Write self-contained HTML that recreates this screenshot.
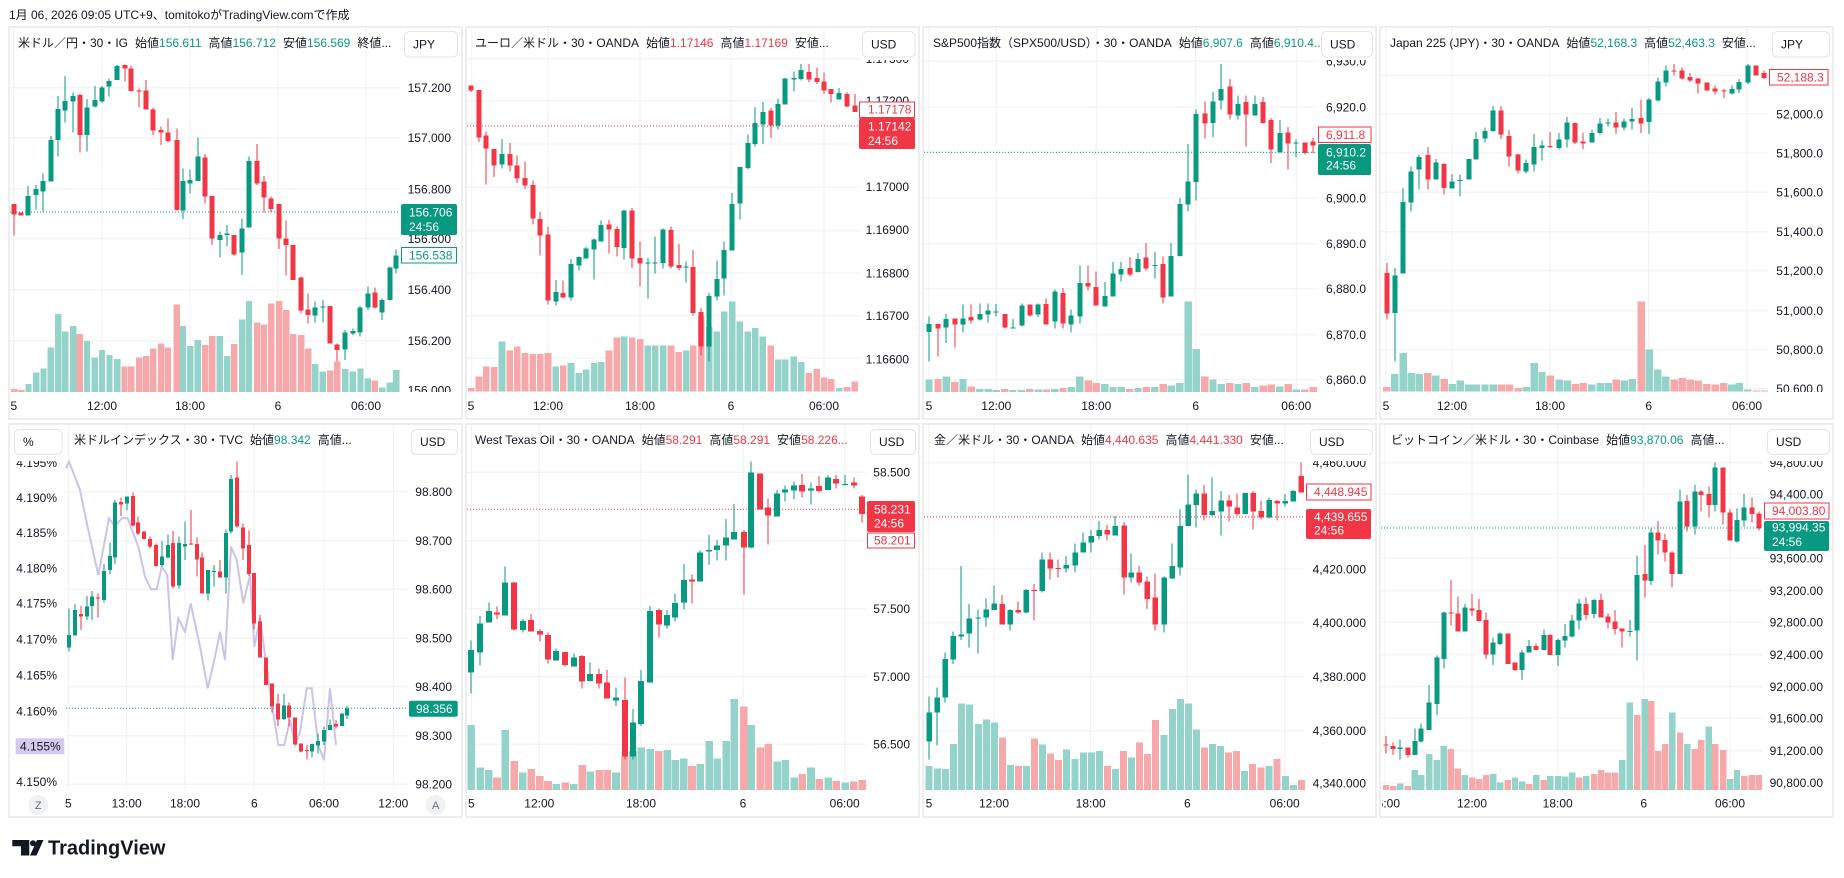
<!DOCTYPE html>
<html><head><meta charset="utf-8">
<style>
html,body{margin:0;padding:0;background:#fff;width:1844px;height:878px;overflow:hidden}
svg{display:block}
text{font-family:"Liberation Sans","Noto Sans CJK JP",sans-serif;fill:#131722}
.ax{font-size:12px;text-anchor:end}
.tm{font-size:12px;text-anchor:middle}
.hd{font-size:12px}
.bx{font-size:12px}
.w{fill:#fff}
.g{fill:#089981}
.r{fill:#f23645}
</style></head>
<body>
<svg id="s" width="1844" height="878" viewBox="0 0 1844 878" xmlns="http://www.w3.org/2000/svg">
<defs>
<clipPath id="cr1"><rect x="0" y="60" width="1844" height="332"/></clipPath>
<clipPath id="cr2"><rect x="0" y="461" width="1844" height="329"/></clipPath>
<clipPath id="cp8"><rect x="1382" y="780" width="460" height="40"/></clipPath>
</defs>
<text x="9" y="19" font-size="12">1月 06, 2026 09:05 UTC+9、tomitokoがTradingView.comで作成</text>

<!-- panel frames -->
<g fill="none" stroke="#eeeeee" stroke-width="2">
<rect x="9" y="27" width="453" height="392"/>
<rect x="466" y="27" width="453" height="392"/>
<rect x="923" y="27" width="453" height="392"/>
<rect x="1380" y="27" width="453" height="392"/>
<rect x="9" y="424" width="453" height="393"/>
<rect x="466" y="424" width="453" height="393"/>
<rect x="923" y="424" width="453" height="393"/>
<rect x="1380" y="424" width="453" height="393"/>
</g>

<!-- gridlines -->
<g fill="none" stroke="#f0f0f0" stroke-width="1">
<path d="M10 87.7H400M10 137.7H400M10 189H400M10 238.7H400M10 289.7H400M10 340.7H400M10 390H400M13.8 28V392M102 28V392M190 28V392M278 28V392M366 28V392"/>
<path d="M467 58.7H859M467 100.7H859M467 144H859M467 187.3H859M467 230.7H859M467 273H859M467 315.7H859M467 358H859M471.7 28V391M548 28V391M640 28V391M731 28V391M824 28V391"/>
<path d="M924 61.3H1317M924 107H1317M924 152.5H1317M924 198H1317M924 243.7H1317M924 288.7H1317M924 334.7H1317M924 379.7H1317M929 28V392M996.3 28V392M1096.3 28V392M1195.7 28V392M1296.3 28V392"/>
<path d="M1381 75.3H1769M1381 114H1769M1381 153H1769M1381 192.3H1769M1381 231.7H1769M1381 270.7H1769M1381 310.7H1769M1381 349.7H1769M1381 388.7H1769M1386 28V391M1452 28V391M1550 28V391M1648.7 28V391M1747 28V391"/>
<path d="M66 491.7H408M66 540.7H408M66 589.3H408M66 638.3H408M66 686.7H408M66 735.7H408M66 784.3H408M68.3 425V790M126.7 425V790M185 425V790M254.3 425V790M324 425V790M393.3 425V790"/>
<path d="M467 472.3H866M467 540.7H866M467 608.7H866M467 676.7H866M467 744.3H866M471.3 425V790M539.3 425V790M641 425V790M743 425V790M844.7 425V790"/>
<path d="M924 462.7H1305M924 516H1305M924 569H1305M924 622.7H1305M924 676.7H1305M924 730.7H1305M924 783.3H1305M929 425V790M994 425V790M1090.7 425V790M1187.3 425V790M1284.7 425V790"/>
<path d="M1381 462.7H1762M1381 494.3H1762M1381 526.5H1762M1381 558.3H1762M1381 590.7H1762M1381 622.3H1762M1381 654.7H1762M1381 686.7H1762M1381 718.3H1762M1381 750.7H1762M1381 782.7H1762M1385 425V790M1472 425V790M1557.7 425V790M1643.7 425V790M1730 425V790"/>
</g>

<polyline id="pl" fill="none" stroke="#cdc3e8" stroke-width="2" points=""/>
<g id="c" shape-rendering="crispEdges"></g>

<!-- dotted price lines -->
<g stroke-width="1" stroke-dasharray="1 2" fill="none">
<path d="M10 212H400" stroke="#089981"/>
<path d="M467 126H859" stroke="#f23645"/>
<path d="M924 152.3H1317" stroke="#089981"/>
<path d="M66 708.3H408" stroke="#089981"/>
<path d="M467 509.3H866" stroke="#f23645"/>
<path d="M924 517H1305" stroke="#f23645"/>
<path d="M1381 528H1762" stroke="#089981"/>
</g>

<!-- axis labels row1 -->
<g clip-path="url(#cr1)">
<text class="ax" x="451" y="92">157.200</text><text class="ax" x="451" y="142">157.000</text><text class="ax" x="451" y="193.3">156.800</text><text class="ax" x="451" y="243">156.600</text><text class="ax" x="451" y="294">156.400</text><text class="ax" x="451" y="345">156.200</text><text class="ax" x="451" y="394.3">156.000</text>
<text class="ax" x="909" y="63">1.17300</text><text class="ax" x="909" y="105">1.17200</text><text class="ax" x="909" y="148.3">1.17100</text><text class="ax" x="909" y="191">1.17000</text><text class="ax" x="909" y="234">1.16900</text><text class="ax" x="909" y="277.3">1.16800</text><text class="ax" x="909" y="320">1.16700</text><text class="ax" x="909" y="363.3">1.16600</text>
<text class="ax" x="1366" y="65.6">6,930.0</text><text class="ax" x="1366" y="111.3">6,920.0</text><text class="ax" x="1366" y="156.8">6,910.0</text><text class="ax" x="1366" y="202.3">6,900.0</text><text class="ax" x="1366" y="248">6,890.0</text><text class="ax" x="1366" y="293">6,880.0</text><text class="ax" x="1366" y="339">6,870.0</text><text class="ax" x="1366" y="384">6,860.0</text>
<text class="ax" x="1823" y="79.6">52,200.0</text><text class="ax" x="1823" y="118.3">52,000.0</text><text class="ax" x="1823" y="157.3">51,800.0</text><text class="ax" x="1823" y="196.6">51,600.0</text><text class="ax" x="1823" y="236">51,400.0</text><text class="ax" x="1823" y="275">51,200.0</text><text class="ax" x="1823" y="315">51,000.0</text><text class="ax" x="1823" y="354">50,800.0</text><text class="ax" x="1823" y="393">50,600.0</text>
</g>
<!-- axis labels row2 -->
<g clip-path="url(#cr2)">
<text class="ax" x="452" y="496">98.800</text><text class="ax" x="452" y="545">98.700</text><text class="ax" x="452" y="593.6">98.600</text><text class="ax" x="452" y="642.6">98.500</text><text class="ax" x="452" y="691">98.400</text><text class="ax" x="452" y="740">98.300</text><text class="ax" x="452" y="788.6">98.200</text>
<text class="ax" x="57" y="467">4.195%</text><text class="ax" x="57" y="502">4.190%</text><text class="ax" x="57" y="537">4.185%</text><text class="ax" x="57" y="572.6">4.180%</text><text class="ax" x="57" y="607.6">4.175%</text><text class="ax" x="57" y="643.6">4.170%</text><text class="ax" x="57" y="679.3">4.165%</text><text class="ax" x="57" y="715.3">4.160%</text><text class="ax" x="57" y="786">4.150%</text>
<text class="ax" x="910" y="476.6">58.500</text><text class="ax" x="910" y="545">58.000</text><text class="ax" x="910" y="613">57.500</text><text class="ax" x="910" y="681">57.000</text><text class="ax" x="910" y="748.6">56.500</text>
<text class="ax" x="1366" y="467">4,460.000</text><text class="ax" x="1366" y="520.3">4,440.000</text><text class="ax" x="1366" y="573.3">4,420.000</text><text class="ax" x="1366" y="627">4,400.000</text><text class="ax" x="1366" y="681">4,380.000</text><text class="ax" x="1366" y="735">4,360.000</text><text class="ax" x="1366" y="787.6">4,340.000</text>
<text class="ax" x="1823" y="467">94,800.00</text><text class="ax" x="1823" y="498.6">94,400.00</text><text class="ax" x="1823" y="530.8">94,000.00</text><text class="ax" x="1823" y="562.6">93,600.00</text><text class="ax" x="1823" y="595">93,200.00</text><text class="ax" x="1823" y="626.6">92,800.00</text><text class="ax" x="1823" y="659">92,400.00</text><text class="ax" x="1823" y="691">92,000.00</text><text class="ax" x="1823" y="722.6">91,600.00</text><text class="ax" x="1823" y="755">91,200.00</text><text class="ax" x="1823" y="787">90,800.00</text>
</g>

<!-- time labels -->
<g>
<text class="tm" x="13.8" y="409.8">5</text><text class="tm" x="102" y="409.8">12:00</text><text class="tm" x="190" y="409.8">18:00</text><text class="tm" x="278" y="409.8">6</text><text class="tm" x="366" y="409.8">06:00</text>
<text class="tm" x="471" y="409.8">5</text><text class="tm" x="548" y="409.8">12:00</text><text class="tm" x="640" y="409.8">18:00</text><text class="tm" x="731" y="409.8">6</text><text class="tm" x="824" y="409.8">06:00</text>
<text class="tm" x="929" y="409.8">5</text><text class="tm" x="996.3" y="409.8">12:00</text><text class="tm" x="1096.3" y="409.8">18:00</text><text class="tm" x="1195.7" y="409.8">6</text><text class="tm" x="1296.3" y="409.8">06:00</text>
<text class="tm" x="1386" y="409.8">5</text><text class="tm" x="1452" y="409.8">12:00</text><text class="tm" x="1550" y="409.8">18:00</text><text class="tm" x="1648.7" y="409.8">6</text><text class="tm" x="1747" y="409.8">06:00</text>
<text class="tm" x="68.3" y="807.3">5</text><text class="tm" x="126.7" y="807.3">13:00</text><text class="tm" x="185" y="807.3">18:00</text><text class="tm" x="254.3" y="807.3">6</text><text class="tm" x="324" y="807.3">06:00</text><text class="tm" x="393.3" y="807.3">12:00</text>
<text class="tm" x="471.3" y="807.3">5</text><text class="tm" x="539.3" y="807.3">12:00</text><text class="tm" x="641" y="807.3">18:00</text><text class="tm" x="743" y="807.3">6</text><text class="tm" x="844.7" y="807.3">06:00</text>
<text class="tm" x="929" y="807.3">5</text><text class="tm" x="994" y="807.3">12:00</text><text class="tm" x="1090.7" y="807.3">18:00</text><text class="tm" x="1187.3" y="807.3">6</text><text class="tm" x="1284.7" y="807.3">06:00</text>
<text class="tm" x="1385" y="807.3" clip-path="url(#cp8)">06:00</text><text class="tm" x="1472" y="807.3">12:00</text><text class="tm" x="1557.7" y="807.3">18:00</text><text class="tm" x="1643.7" y="807.3">6</text><text class="tm" x="1730" y="807.3">06:00</text>
<circle cx="38.3" cy="805" r="10" fill="#f0f1f3"/><text x="38.3" y="809" font-size="11" text-anchor="middle" style="fill:#6a6d78">Z</text>
<circle cx="435.7" cy="805" r="10" fill="#f0f1f3"/><text x="435.7" y="809" font-size="11" text-anchor="middle" style="fill:#6a6d78">A</text>
</g>

<!-- headers -->
<text class="hd" x="18" y="47">米ドル／円・30・IG<tspan dx="7">始値</tspan><tspan class="g">156.611</tspan><tspan dx="7">高値</tspan><tspan class="g">156.712</tspan><tspan dx="7">安値</tspan><tspan class="g">156.569</tspan><tspan dx="7">終値...</tspan></text>
<text class="hd" x="475" y="47">ユーロ／米ドル・30・OANDA<tspan dx="7">始値</tspan><tspan class="r">1.17146</tspan><tspan dx="7">高値</tspan><tspan class="r">1.17169</tspan><tspan dx="7">安値...</tspan></text>
<text class="hd" x="933" y="47">S&amp;P500指数（SPX500/USD）・30・OANDA<tspan dx="7">始値</tspan><tspan class="g">6,907.6</tspan><tspan dx="7">高値</tspan><tspan class="g">6,910.4...</tspan></text>
<text class="hd" x="1390" y="47">Japan 225 (JPY)・30・OANDA<tspan dx="7">始値</tspan><tspan class="g">52,168.3</tspan><tspan dx="7">高値</tspan><tspan class="g">52,463.3</tspan><tspan dx="7">安値...</tspan></text>
<text class="hd" x="74" y="444">米ドルインデックス・30・TVC<tspan dx="7">始値</tspan><tspan class="g">98.342</tspan><tspan dx="7">高値...</tspan></text>
<text class="hd" x="475" y="444">West Texas Oil・30・OANDA<tspan dx="7">始値</tspan><tspan class="r">58.291</tspan><tspan dx="7">高値</tspan><tspan class="r">58.291</tspan><tspan dx="7">安値</tspan><tspan class="r">58.226...</tspan></text>
<text class="hd" x="934" y="444">金／米ドル・30・OANDA<tspan dx="7">始値</tspan><tspan class="r">4,440.635</tspan><tspan dx="7">高値</tspan><tspan class="r">4,441.330</tspan><tspan dx="7">安値...</tspan></text>
<text class="hd" x="1391" y="444">ビットコイン／米ドル・30・Coinbase<tspan dx="7">始値</tspan><tspan class="g">93,870.06</tspan><tspan dx="7">高値...</tspan></text>

<!-- currency boxes -->
<g fill="#fff" stroke="#e3e5ea" stroke-width="1">
<rect x="404.5" y="31.5" width="53" height="25.5" rx="5"/>
<rect x="862.5" y="31.5" width="52.5" height="25.5" rx="5"/>
<rect x="1321.5" y="31.5" width="51" height="25.5" rx="5"/>
<rect x="1772.5" y="31.5" width="57" height="25.5" rx="5"/>
<rect x="14.5" y="429.5" width="47.5" height="25" rx="5"/>
<rect x="411.5" y="429.5" width="46" height="25" rx="5"/>
<rect x="870.5" y="429.5" width="45" height="25" rx="5"/>
<rect x="1310.5" y="429.5" width="62" height="25" rx="5"/>
<rect x="1767.5" y="429.5" width="62" height="25" rx="5"/>
</g>
<g font-size="12">
<text x="413" y="48.5">JPY</text><text x="871" y="48.5">USD</text><text x="1330" y="48.5">USD</text><text x="1781" y="48.5">JPY</text>
<text x="23" y="446">%</text><text x="420" y="446">USD</text><text x="879" y="446">USD</text><text x="1319" y="446">USD</text><text x="1776" y="446">USD</text>
</g>

<!-- last price labels -->
<g>
<rect x="401" y="204" width="56" height="31" fill="#089981" rx="2"/>
<text class="bx w" x="409" y="216.6">156.706</text><text class="bx w" x="409" y="231">24:56</text>
<rect x="401.5" y="247.5" width="55" height="15.5" fill="#fff" stroke="#089981"/>
<text class="bx g" x="409" y="259.3">156.538</text>

<rect x="859.5" y="102" width="55" height="15.5" fill="#fff" stroke="#f23645"/>
<text class="bx r" x="868" y="113.6">1.17178</text>
<rect x="859" y="118" width="56" height="31" fill="#f23645" rx="2"/>
<text class="bx w" x="868" y="130.6">1.17142</text><text class="bx w" x="868" y="145">24:56</text>

<rect x="1318.5" y="127" width="52.5" height="15.5" fill="#fff" stroke="#f23645"/>
<text class="bx r" x="1326" y="139">6,911.8</text>
<rect x="1318" y="144" width="53" height="31" fill="#089981" rx="2"/>
<text class="bx w" x="1326" y="156.3">6,910.2</text><text class="bx w" x="1326" y="169.6">24:56</text>

<rect x="1769.5" y="69.5" width="58.5" height="15.5" fill="#fff" stroke="#f23645"/>
<text class="bx r" x="1777" y="81.6">52,188.3</text>

<rect x="409" y="700.7" width="48.7" height="16" fill="#089981" rx="2"/>
<text class="bx w" x="416" y="713">98.356</text>
<rect x="15.7" y="738.3" width="48.6" height="16" fill="#d5c9ed"/>
<text class="bx" x="20" y="750.6">4.155%</text>

<rect x="867" y="501" width="48" height="31" fill="#f23645" rx="2"/>
<text class="bx w" x="874" y="513.6">58.231</text><text class="bx w" x="874" y="527.6">24:56</text>
<rect x="867.5" y="533" width="47" height="15" fill="#fff" stroke="#f23645"/>
<text class="bx r" x="874" y="544.3">58.201</text>

<rect x="1306.5" y="484" width="64.5" height="16" fill="#fff" stroke="#f23645"/>
<text class="bx r" x="1314" y="496">4,448.945</text>
<rect x="1306" y="509" width="65" height="30" fill="#f23645" rx="2"/>
<text class="bx w" x="1314" y="521">4,439.655</text><text class="bx w" x="1314" y="534.3">24:56</text>

<rect x="1764.5" y="503" width="64.5" height="16" fill="#fff" stroke="#f23645"/>
<text class="bx r" x="1772" y="515">94,003.80</text>
<rect x="1764" y="521" width="65" height="30" fill="#089981" rx="2"/>
<text class="bx w" x="1772" y="531.6">93,994.35</text><text class="bx w" x="1772" y="546">24:56</text>
</g>

<!-- TradingView logo -->
<g fill="#131722">
<path d="M12.3 840H29.3V855.5H21V846.3H12.3Z"/>
<circle cx="33" cy="843.2" r="3"/>
<path d="M37 840H43.5L36.5 855.5H30Z"/>
</g>
<text x="48" y="854.5" font-size="20" font-weight="bold">TradingView</text>
</svg>

<script>
(function(){
var NS='http://www.w3.org/2000/svg';
var g=document.getElementById('c');
var G='#089981',R='#f23645',VG='#93d3ca',VR='#f7a8ab';
function rect(x,y,w,h,f){var e=document.createElementNS(NS,'rect');e.setAttribute('x',x.toFixed(2));e.setAttribute('y',y.toFixed(2));e.setAttribute('width',Math.max(w,0.5).toFixed(2));e.setAttribute('height',Math.max(h,1).toFixed(2));e.setAttribute('fill',f);g.appendChild(e);}
function P(ox,oy,sx,sy,bw,vw,base,cs,vs){
 var cd=cs.trim().split(',').map(function(s){return s.trim().split(/\s+/).map(function(v,i){return i<5?+v:v;});});
 var xs=cd.map(function(a){return ox+a[0]/sx;});
 var n=xs.length, step=(xs[n-1]-xs[0])/(n-1);
 if(vs){vs.trim().split(/\s+/).forEach(function(s,i){
   var x=i<n?xs[i]:xs[n-1]+step*(i-n+1);
   var t=oy+(+s.slice(1))/sy;
   rect(x-vw/2,t,vw,base-t,s[0]=='g'?VG:VR);
 });}
 cd.forEach(function(a,i){
   var x=xs[i],c=a[5]=='g'?G:R;
   var bt=oy+a[1]/sy,bb=oy+a[2]/sy,wt=oy+a[3]/sy,wb=oy+a[4]/sy;
   rect(Math.round(x)-0.5,wt,1,wb-wt,c);
   rect(Math.round(x)-bw/2,bt,bw,Math.max(1,bb-bt),c);
 });
}
// Panel 1
P(0,0,2.53,3,5,6.4,392,
"36 612 643 612 707 r,54 638 647 638 647 r,72 588 647 558 647 g,92 567 585 555 628 g,110 543 575 520 635 g,128 420 545 408 545 g,147 327 420 288 470 g,165 303 332 228 368 g,185 288 305 278 397 g,202 285 405 280 458 r,220 323 405 297 455 g,240 300 320 258 323 g,258 262 305 258 308 g,277 243 260 235 290 g,297 198 240 195 240 g,315 195 205 193 245 r,332 205 273 197 275 r,352 272 274 265 323 r,370 272 328 240 328 r,388 328 392 323 405 r,408 390 398 380 435 r,425 397 423 355 428 r,447 420 630 385 632 r,463 543 632 505 657 g,481 540 550 508 580 g,500 470 543 413 543 g,519 473 590 462 610 r,537 588 715 588 735 r,556 705 720 695 773 g,575 700 705 675 740 g,593 705 763 705 767 r,613 685 758 655 825 g,630 483 683 470 683 g,651 483 550 432 555 r,668 545 593 528 637 r,686 595 627 590 637 r,706 612 715 612 747 r,724 715 735 662 827 r,742 735 840 735 840 r,762 833 932 830 940 r,780 928 945 880 970 r,798 922 947 905 968 g,817 920 922 900 968 g,836 918 1030 918 1030 r,853 1033 1050 1030 1085 r,873 997 1048 990 1080 g,892 993 1000 985 1005 g,912 922 998 918 1010 g,930 880 922 860 930 g,948 878 922 862 925 r,967 900 938 895 960 g,986 803 900 800 902 g,1002 767 805 748 820 g",
"r1167 r1170 g1152 g1118 g1105 g1042 g942 g995 g978 r1002 g1023 g1072 g1050 g1065 g1077 r1100 r1100 r1072 r1068 r1045 r1030 r1042 r913 g978 g1038 g1020 r1035 r1008 g1008 g1068 r1032 g958 g903 r968 r973 r910 r903 r930 r1002 r1005 r1045 g1092 g1115 r1112 r1085 g1107 g1115 g1105 g1135 r1142 g1162 g1147 g1110");
// Panel 2
P(462,28,3,3,5.2,6.7,391.3,
"28 172 188 172 192 r,51 186 328 186 342 r,73 323 362 310 470 r,97 363 412 363 447 r,120 378 410 333 422 g,143 378 412 345 430 r,166 413 452 382 465 r,189 450 472 400 483 r,212 471 572 457 590 r,235 573 622 552 683 r,258 620 818 595 830 r,281 792 820 756 832 g,304 795 808 757 810 r,327 708 808 693 818 g,350 687 713 685 728 g,373 662 691 657 692 g,397 635 665 632 755 g,418 591 641 578 641 g,441 590 605 576 677 r,465 603 657 595 686 r,487 548 660 546 695 g,511 548 692 540 720 r,535 690 707 640 775 r,557 703 706 690 812 g,580 703 705 625 737 g,604 605 705 602 722 g,627 606 715 595 722 r,650 711 720 648 728 r,673 716 718 700 763 g,694 717 855 666 863 r,718 852 955 840 983 r,742 804 955 795 1000 g,764 753 806 697 818 g,787 666 752 640 803 g,811 528 668 495 668 g,833 417 527 417 575 g,857 345 420 320 425 g,880 285 348 237 355 g,902 252 290 222 348 g,926 248 293 240 330 r,949 228 293 212 305 g,970 152 230 150 230 g,995 150 155 130 190 g,1018 126 153 108 158 g,1040 132 155 108 162 r,1064 150 162 118 168 r,1087 160 187 133 198 r,1108 183 198 183 223 r,1132 195 215 180 215 g,1155 198 235 192 237 r,1178 232 252 198 252 r",
"r1080 r1045 r1015 r1017 g940 r968 r955 r975 r978 r978 r975 g1015 r1012 g1005 g1035 g1025 g1005 g1002 r968 r928 g925 r928 r933 g952 g952 g952 r952 r972 g968 r952 r865 g897 g910 g850 g820 g880 g910 g900 g925 r952 g995 g995 g985 g1002 r1035 r1023 r1048 r1053 g1080 r1077 r1060");
// Panel 3
P(919,28,3,3,5.4,7.3,392,
"30 888 912 865 1000 g,57 888 902 888 985 r,82 873 898 858 945 g,107 871 890 871 958 r,132 871 890 830 913 g,157 867 878 830 887 r,182 858 875 826 877 g,208 847 860 826 883 g,232 850 852 828 865 g,257 858 899 858 902 r,282 898 900 873 902 g,308 833 893 826 895 g,332 830 863 830 865 r,358 830 860 826 867 g,382 828 890 812 890 r,407 790 880 784 902 g,432 795 887 780 902 r,457 862 890 845 913 g,482 765 866 713 886 g,508 765 775 713 787 r,532 777 833 730 833 r,557 804 836 762 836 g,582 736 806 702 806 g,607 723 740 702 760 g,632 720 740 687 746 r,657 693 732 675 734 g,682 688 722 645 727 r,707 711 713 672 752 g,733 708 808 685 827 r,757 684 806 645 806 g,782 528 684 510 686 g,808 460 530 348 550 g,832 258 462 245 518 g,857 256 287 220 332 r,882 220 285 192 327 g,907 183 218 108 245 g,932 175 260 153 275 r,957 228 263 202 275 g,982 222 260 202 356 r,1007 228 263 202 263 g,1033 222 285 207 287 r,1057 276 365 270 405 r,1082 315 372 276 375 g,1108 313 347 297 425 r,1132 343 346 335 387 g,1157 343 375 343 380 r,1183 340 353 330 375 r",
"g1055 r1053 g1045 r1062 g1053 r1075 g1083 g1083 g1086 r1083 g1086 g1086 r1083 g1085 r1085 g1083 r1080 g1077 g1045 r1058 r1065 g1068 g1077 g1077 r1083 g1080 r1077 g1077 r1068 g1072 g1065 g820 g963 r1045 g1055 g1068 r1065 g1068 r1065 g1077 r1073 r1070 g1075 r1068 g1085 r1085 r1077");
// Panel 4
P(1376,28,3,3,5.4,7.2,391.3,
"32 735 857 705 875 r,56 743 855 720 1000 g,82 522 737 480 737 g,106 430 524 415 550 g,130 387 425 380 485 g,155 381 455 357 485 r,179 404 455 393 455 g,205 408 480 405 500 r,229 460 482 438 482 g,253 456 458 440 506 g,278 393 455 393 455 g,301 333 395 312 395 g,327 309 332 299 343 g,352 247 309 234 312 g,376 247 320 234 333 r,400 324 385 306 415 r,427 380 428 378 437 r,451 405 430 395 437 g,475 357 410 318 430 g,498 353 360 338 398 g,523 354 357 312 360 r,550 335 360 315 365 g,574 283 335 267 358 g,598 285 343 283 348 r,622 340 347 315 363 r,647 315 343 305 343 g,673 286 315 270 320 g,697 284 286 272 295 g,721 283 298 252 318 r,745 280 298 272 308 g,769 273 280 240 305 g,796 270 287 215 315 r,820 215 282 210 318 g,845 160 218 148 220 g,869 128 163 113 175 g,895 128 130 108 143 r,919 128 152 118 155 r,943 147 157 135 162 r,967 152 167 150 197 r,992 163 187 163 188 r,1018 182 190 172 200 r,1043 188 190 183 210 r,1067 183 197 172 200 g,1090 162 185 153 195 g,1115 113 163 108 168 g,1141 113 142 113 142 r,1165 135 150 128 153 r",
"r1077 g1038 g975 g1035 g1038 r1035 g1043 r1053 g1068 g1058 g1070 g1070 g1070 g1070 r1070 r1070 r1080 g1077 g1005 g1032 r1043 g1055 g1058 r1068 r1065 g1070 g1065 g1065 r1055 g1058 g1053 r820 g965 g1025 g1045 r1055 r1050 r1055 r1058 r1068 r1070 r1065 g1070 g1065 g1085 r1088 r1088");
// Panel 5 purple line
(function(){var pts="183 145,192 125,225 210,250 330,280 465,312 295,330 320,350 295,368 295,400 380,420 470,438 508,455 508,470 440,487 465,503 720,520 595,540 635,557 550,585 680,608 805,628 720,645 635,660 720,678 380,695 420,715 550,735 465,748 680,765 595,782 720,800 850,820 975,838 975,855 900,870 975,885 935,905 805,920 805,940 975,957 1020,975 805,993 975".split(',').map(function(p){var a=p.split(' ');return (5+a[0]/3).toFixed(1)+','+(420+a[1]/3).toFixed(1);}).join(' ');document.getElementById('pl').setAttribute('points',pts);})();
P(5,420,3,3,4.2,0,790,
"193 645 683 565 695 g,211 570 647 552 647 g,227 582 590 558 630 r,245 560 590 528 600 g,262 530 558 513 600 g,280 532 536 520 593 r,298 453 540 432 548 g,314 408 450 367 462 g,331 248 413 240 432 g,349 246 254 232 288 r,367 230 250 230 272 g,384 228 316 218 320 r,400 308 340 290 345 r,418 335 357 333 357 r,436 357 380 350 385 r,454 375 438 370 440 r,471 410 435 363 440 g,488 375 412 343 415 g,505 369 500 333 506 r,523 369 497 350 506 g,540 372 380 305 420 g,558 370 373 270 375 r,575 372 418 353 470 r,592 413 520 397 520 r,610 450 520 450 542 g,627 453 455 435 500 g,645 455 472 420 472 r,662 339 472 328 520 g,679 177 335 165 340 g,697 173 320 125 322 r,715 323 385 310 420 r,733 375 462 332 468 r,748 459 610 459 628 r,766 605 712 585 712 r,784 713 795 713 795 r,801 790 860 790 878 r,819 850 898 822 918 r,836 857 897 822 900 g,853 857 893 848 920 r,871 893 973 893 973 r,888 970 995 970 997 r,905 990 992 975 1018 r,922 972 995 970 1013 g,940 963 977 940 1000 g,957 930 965 920 975 g,975 915 930 898 930 g,992 912 920 900 925 r,1010 880 918 880 918 g,1027 865 887 858 897 g",
null);
// Panel 6
P(462,420,3,3,6,7.6,790,
"28 690 758 662 820 g,55 610 698 588 737 g,80 573 608 548 608 g,105 577 584 560 597 r,130 487 587 440 587 g,157 488 628 486 632 r,182 603 630 597 638 g,208 600 635 582 635 r,233 633 643 627 665 r,258 645 718 637 730 r,283 693 722 685 722 g,310 696 735 696 740 r,335 712 740 700 740 g,361 708 785 705 805 r,385 762 783 728 785 g,412 762 790 745 805 r,436 787 835 750 835 r,462 833 842 803 858 g,488 840 1010 773 1018 r,513 907 1010 867 1018 g,538 783 912 750 918 g,565 573 787 558 787 g,590 570 613 565 652 r,616 585 617 570 625 g,640 549 593 520 605 g,665 480 548 432 568 g,690 478 485 463 550 r,715 398 485 392 485 g,742 390 395 345 435 g,766 376 390 360 422 g,793 353 377 297 422 g,817 336 358 252 358 g,845 336 383 330 523 r,868 158 383 125 385 g,895 160 268 160 268 r,919 262 287 235 373 r,946 220 290 210 290 g,970 208 218 197 245 g,997 197 212 185 238 g,1021 195 215 162 233 r,1047 205 212 188 253 g,1072 198 213 168 218 r,1099 173 210 165 210 g,1123 177 190 165 205 r,1150 192 195 165 197 g,1175 188 196 172 205 r,1201 230 282 225 308 r",
"g915 g1042 g1050 r1073 g930 r1023 g1058 r1047 r1068 r1083 g1092 r1088 g1092 r1035 g1055 r1050 r1050 g1058 r1010 g993 g982 g987 r993 g990 g1020 g1015 r1038 g1032 g963 g1015 g963 g837 r860 g915 r982 r972 g1025 g1020 g1072 r1062 g1042 r1077 g1073 r1083 g1088 r1085 r1080");
// Panel 7
P(919,420,3,3,5.5,7.1,790,
"30 877 965 830 1018 g,55 832 878 803 977 g,79 717 833 697 848 g,103 648 718 635 732 g,127 643 650 438 660 g,151 595 640 552 683 g,178 592 594 568 700 g,202 568 593 535 620 g,226 550 570 497 570 g,250 552 613 525 613 r,274 570 613 567 632 g,298 570 578 545 580 r,322 510 578 507 580 g,346 510 512 492 602 r,370 418 513 397 518 g,394 418 446 397 478 r,418 444 446 418 472 r,442 435 446 408 457 g,468 397 437 370 457 g,493 367 397 337 398 g,517 348 367 330 398 g,541 330 348 303 358 g,565 330 344 315 362 r,589 318 347 288 347 g,614 316 473 306 523 r,637 457 473 400 488 g,661 457 488 438 497 r,685 484 537 470 567 r,709 532 613 460 632 r,735 473 613 470 638 g,760 438 475 370 477 g,784 318 443 267 467 g,808 253 318 163 318 g,832 220 255 208 322 g,856 220 285 195 302 r,880 273 285 172 288 g,905 241 275 213 347 g,929 241 260 225 305 r,953 262 282 220 288 r,977 219 282 218 282 g,1001 219 275 213 328 r,1026 273 293 243 298 r,1050 240 293 232 295 g,1074 243 250 240 302 r,1099 243 250 222 260 g,1123 213 245 210 245 g,1147 168 218 128 218 r",
"g1038 g1045 g1047 g972 g850 g853 g912 g898 g907 r952 g1035 r1038 g1038 r955 g973 r1000 r1020 g988 g1017 g997 g998 g993 r1038 g1047 r993 g1012 r967 r1002 r900 g945 g867 g837 g850 g928 r982 g972 g978 r997 r993 g1053 r1032 r1042 g1038 r1017 g1068 g1095 r1080");
// Panel 8
P(1376,420,3,3,5,6.3,790,
"30 973 977 948 1000 r,52 978 987 968 1005 r,73 983 987 958 1018 g,95 983 1005 983 1013 r,116 963 1005 925 1005 g,136 925 965 910 967 g,160 848 930 795 930 g,182 713 852 707 885 g,203 578 717 575 745 g,224 578 580 480 617 r,245 580 635 530 635 r,266 563 635 552 635 g,289 565 572 522 588 r,310 570 603 537 605 r,331 600 703 577 717 r,352 668 703 652 735 g,373 640 672 637 675 g,395 641 732 641 732 r,417 728 750 728 753 r,439 697 750 690 780 g,460 678 698 660 698 g,481 678 690 670 690 r,503 645 690 628 692 g,523 645 705 642 705 r,547 660 705 655 738 g,568 648 662 612 683 g,589 602 650 585 652 g,610 550 602 537 628 g,631 552 585 532 598 r,655 540 582 537 595 g,676 540 593 522 593 r,697 590 608 580 625 r,718 605 627 570 643 r,739 625 635 625 683 r,761 633 635 600 650 g,784 465 632 407 722 g,806 462 482 375 533 r,826 337 483 325 495 g,847 337 362 303 403 r,868 360 397 342 425 r,889 397 462 395 503 r,912 245 462 208 462 g,934 243 320 225 335 r,956 215 320 195 343 g,976 215 225 210 275 r,998 222 255 200 293 r,1018 142 255 127 275 g,1042 142 278 142 313 r,1063 277 362 267 362 r,1083 300 365 265 368 g,1105 262 302 222 320 g,1127 262 282 232 307 r,1148 280 325 275 332 r",
"r1095 r1098 g1090 r1098 g1050 g1065 g1002 g1020 g978 r987 r1045 g1065 r1073 r1077 r1065 g1062 g1088 r1080 g1073 g1085 r1092 g1065 r1080 g1068 g1068 g1070 g1058 r1073 g1068 r1062 r1050 r1058 r1058 g1020 g847 r885 g837 r843 r993 r972 g878 r937 g972 r987 r960 g920 r972 r990 g1077 g1050 r1068 r1065 r1065");
})();
</script>
</body></html>
